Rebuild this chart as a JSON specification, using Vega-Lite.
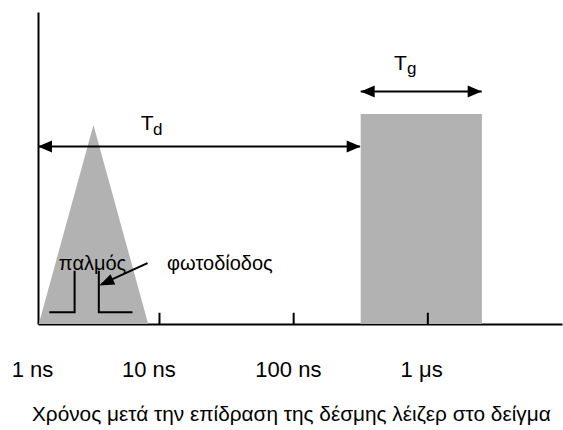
{
  "$schema": "https://vega.github.io/schema/vega-lite/v6.json",
  "width": 524,
  "height": 312,
  "autosize": {"type": "none"},
  "padding": {"left": 38, "top": 12, "right": 1, "bottom": 106},
  "background": "white",
  "config": {
    "view": {"stroke": null},
    "font": "Liberation Sans",
    "axis": {"grid": false, "ticks": false, "labels": false, "title": null, "domainColor": "black", "domainWidth": 2}
  },
  "datasets": {
    "pulse": [
      {"t": 1.26, "v": 0},
      {"t": 3.22, "v": 63.8},
      {"t": 8.24, "v": 0}
    ],
    "gate": [
      {"t": 316, "t2": 2530, "v": 0, "v2": 67.3}
    ],
    "steps": [
      {"seg": "a", "o": 1, "t": 1.51, "v": 3.75},
      {"seg": "a", "o": 2, "t": 2.33, "v": 3.75},
      {"seg": "a", "o": 3, "t": 2.33, "v": 17.1},
      {"seg": "b", "o": 1, "t": 3.53, "v": 17.1},
      {"seg": "b", "o": 2, "t": 3.53, "v": 3.75},
      {"seg": "b", "o": 3, "t": 6.29, "v": 3.75}
    ],
    "arrows": [
      {"name": "Td", "t": 1.243, "t2": 312, "v": 56.9, "v2": 56.9},
      {"name": "Tg", "t": 316, "t2": 2520, "v": 74.5, "v2": 74.5},
      {"name": "pd", "t": 8.14, "t2": 3.7, "v": 19.5, "v2": 12.8}
    ],
    "headsRight": [
      {"t": 316, "v": 56.9},
      {"t": 2520, "v": 74.5}
    ],
    "headsLeft": [
      {"t": 1.243, "v": 56.9},
      {"t": 316, "v": 74.5}
    ],
    "headDiag": [
      {"t": 3.56, "v": 12.3}
    ],
    "ticks": [
      {"t": 10, "v": 0, "v2": 3.6},
      {"t": 100, "v": 0, "v2": 3.6},
      {"t": 1000, "v": 0, "v2": 3.6}
    ],
    "ticklabels": [
      {"t": 1.132, "v": -16.9, "label": "1 ns"},
      {"t": 8.34, "v": -16.9, "label": "10 ns"},
      {"t": 91.3, "v": -16.9, "label": "100 ns"},
      {"t": 899, "v": -16.9, "label": "1 μs"}
    ],
    "notes": [
      {"t": 3.17, "v": 17.3, "label": "παλμός"},
      {"t": 28.2, "v": 17.3, "label": "φωτοδίοδος"}
    ],
    "bigT": [
      {"t": 8.1, "v": 62.2, "label": "T"},
      {"t": 625, "v": 81.4, "label": "T"}
    ],
    "subs": [
      {"t": 8.95, "v": 60.6, "label": "d"},
      {"t": 699, "v": 80.2, "label": "g"}
    ],
    "title": [
      {"t": 1.12, "v": -31.1, "label": "Χρόνος μετά την επίδραση της δέσμης λέιζερ στο δείγμα"}
    ]
  },
  "encoding": {
    "x": {"field": "t", "type": "quantitative", "scale": {"type": "log", "domain": [1.243, 10000], "nice": false, "zero": false}, "axis": {"orient": "bottom"}},
    "y": {"field": "v", "type": "quantitative", "scale": {"domain": [0, 100], "nice": false}, "axis": {"orient": "left"}}
  },
  "layer": [
    {
      "data": {"name": "pulse"},
      "mark": {"type": "area", "color": "#b2b2b2", "interpolate": "linear"}
    },
    {
      "data": {"name": "gate"},
      "mark": {"type": "rect", "color": "#b2b2b2"},
      "encoding": {"x2": {"field": "t2"}, "y2": {"field": "v2"}}
    },
    {
      "data": {"name": "steps"},
      "mark": {"type": "line", "color": "black", "strokeWidth": 2, "strokeJoin": "miter", "strokeCap": "butt"},
      "encoding": {"detail": {"field": "seg"}, "order": {"field": "o", "type": "quantitative"}}
    },
    {
      "data": {"name": "ticks"},
      "mark": {"type": "rule", "color": "black", "strokeWidth": 2},
      "encoding": {"y2": {"field": "v2"}}
    },
    {
      "data": {"name": "arrows"},
      "mark": {"type": "rule", "color": "black", "strokeWidth": 2},
      "encoding": {"x2": {"field": "t2"}, "y2": {"field": "v2"}}
    },
    {
      "data": {"name": "headsRight"},
      "mark": {"type": "point", "shape": "M0,0 L-2,-0.85 L-2,0.85 Z", "size": 196, "filled": true, "color": "black", "opacity": 1, "strokeWidth": 0}
    },
    {
      "data": {"name": "headsLeft"},
      "mark": {"type": "point", "shape": "M0,0 L2,-0.85 L2,0.85 Z", "size": 196, "filled": true, "color": "black", "opacity": 1, "strokeWidth": 0}
    },
    {
      "data": {"name": "headDiag"},
      "mark": {"type": "point", "shape": "M0,0 L2,-0.75 L2,0.75 Z", "size": 225, "angle": 335, "filled": true, "color": "black", "opacity": 1, "strokeWidth": 0}
    },
    {
      "data": {"name": "ticklabels"},
      "mark": {"type": "text", "fontSize": 22, "align": "center", "baseline": "alphabetic", "color": "black", "font": "Liberation Sans"},
      "encoding": {"text": {"field": "label"}}
    },
    {
      "data": {"name": "notes"},
      "mark": {"type": "text", "fontSize": 20, "align": "center", "baseline": "alphabetic", "color": "black", "font": "Liberation Sans"},
      "encoding": {"text": {"field": "label"}}
    },
    {
      "data": {"name": "bigT"},
      "mark": {"type": "text", "fontSize": 21, "align": "center", "baseline": "alphabetic", "color": "black", "font": "Liberation Sans"},
      "encoding": {"text": {"field": "label"}}
    },
    {
      "data": {"name": "subs"},
      "mark": {"type": "text", "fontSize": 17, "align": "left", "baseline": "alphabetic", "color": "black", "font": "Liberation Sans"},
      "encoding": {"text": {"field": "label"}}
    },
    {
      "data": {"name": "title"},
      "mark": {"type": "text", "fontSize": 20.8, "align": "left", "baseline": "alphabetic", "color": "black", "font": "Liberation Sans"},
      "encoding": {"text": {"field": "label"}}
    }
  ]
}
